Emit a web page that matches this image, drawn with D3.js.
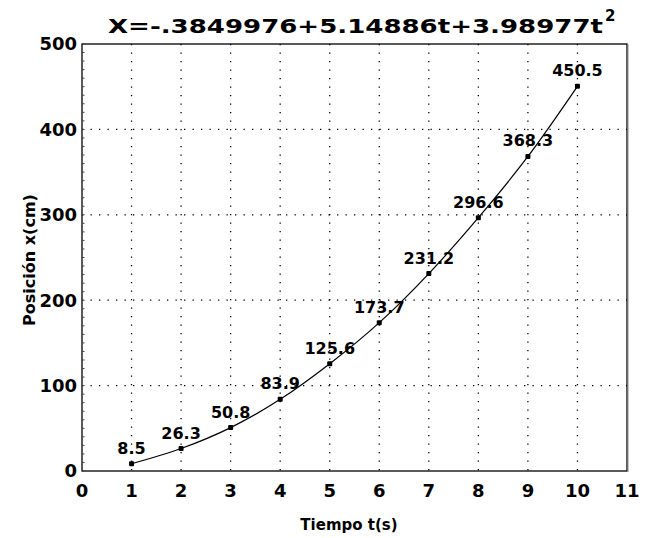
<!DOCTYPE html>
<html lang="es">
<head>
<meta charset="UTF-8">
<title>Posición vs Tiempo</title>
<script src="https://d3js.org/d3.v7.min.js"></script>
<style>
  body { margin: 0; background: #fff; }
  svg text { font-family: "DejaVu Sans", "Liberation Sans", Arial, sans-serif; font-weight: bold; fill: #000; }
  .grid line { stroke: #000; stroke-width: 1.3; stroke-dasharray: 1.3 7.2; }
</style>
</head>
<body>
<div id="chart"></div>
<script>
  // data
  var tiempo = [1, 2, 3, 4, 5, 6, 7, 8, 9, 10];
  var posicion = [8.5, 26.3, 50.8, 83.9, 125.6, 173.7, 231.2, 296.6, 368.3, 450.5];
  var xTicks = [0, 1, 2, 3, 4, 5, 6, 7, 8, 9, 10, 11];
  var yTicks = [0, 100, 200, 300, 400, 500];

  var width = 645, height = 538;
  var margin = {left: 82, right: 18, top: 44, bottom: 67};

  var svg = d3.select('#chart').append('svg')
    .attr('width', width)
    .attr('height', height);

  var x = d3.scaleLinear().domain([0, 11]).range([margin.left, width - margin.right]);
  var y = d3.scaleLinear().domain([0, 500]).range([height - margin.bottom, margin.top]);

  // dotted grid
  var grid = svg.append('g').classed('grid', true);
  grid.selectAll('line.v')
    .data(xTicks.slice(1, -1))
    .enter().append('line')
    .attr('x1', function (d) { return x(d); })
    .attr('x2', function (d) { return x(d); })
    .attr('y1', y(500))
    .attr('y2', y(0));
  grid.selectAll('line.h')
    .data(yTicks.slice(1, -1))
    .enter().append('line')
    .attr('x1', x(0))
    .attr('x2', x(11))
    .attr('y1', function (d) { return y(d); })
    .attr('y2', function (d) { return y(d); });

  // frame
  svg.append('rect')
    .attr('x', x(0))
    .attr('y', y(500))
    .attr('width', x(11) - x(0))
    .attr('height', y(0) - y(500))
    .attr('fill', 'none')
    .attr('stroke', '#000')
    .attr('stroke-width', 1.3);
  svg.append('line')
    .attr('x1', x(11) + 1).attr('x2', x(11) + 1)
    .attr('y1', y(500)).attr('y2', y(0) + 1)
    .attr('stroke', '#888').attr('stroke-width', 1);

  // minor ticks on left axis
  svg.append('g')
    .selectAll('line')
    .data(d3.range(0, 501, 10))
    .enter().append('line')
    .attr('x1', x(0))
    .attr('x2', x(0) + 2.5)
    .attr('y1', function (d) { return y(d); })
    .attr('y2', function (d) { return y(d); })
    .attr('stroke', '#444')
    .attr('stroke-width', 1);

  // tick labels
  svg.append('g').selectAll('text')
    .data(xTicks)
    .enter().append('text')
    .attr('x', function (d) { return x(d); })
    .attr('y', y(0) + 26)
    .attr('text-anchor', 'middle')
    .style('font-size', '18px')
    .text(function (d) { return d; });

  svg.append('g').selectAll('text')
    .data(yTicks)
    .enter().append('text')
    .attr('x', x(0) - 5)
    .attr('y', function (d) { return y(d); })
    .attr('dy', '0.36em')
    .attr('text-anchor', 'end')
    .style('font-size', '18px')
    .text(function (d) { return d; });

  // curve through the points
  var line = d3.line()
    .x(function (d, i) { return x(tiempo[i]); })
    .y(function (d) { return y(d); })
    .curve(d3.curveMonotoneX);

  svg.append('path')
    .datum(posicion)
    .attr('d', line)
    .attr('fill', 'none')
    .attr('stroke', '#000')
    .attr('stroke-width', 1.2);

  svg.append('g').selectAll('rect')
    .data(posicion)
    .enter().append('rect')
    .attr('x', function (d, i) { return x(tiempo[i]) - 2.5; })
    .attr('y', function (d) { return y(d) - 2.5; })
    .attr('width', 5)
    .attr('height', 5)
    .attr('rx', 1)
    .attr('fill', '#000');

  // value labels
  svg.append('g').selectAll('text')
    .data(posicion)
    .enter().append('text')
    .attr('x', function (d, i) { return x(tiempo[i]); })
    .attr('y', function (d) { return y(d) - 10; })
    .attr('text-anchor', 'middle')
    .style('font-size', '16px')
    .text(function (d) { return d.toFixed(1); });

  // title
  var title = svg.append('text')
    .attr('x', 108)
    .attr('y', 33)
    .style('font-size', '20px');
  title.append('tspan')
    .attr('textLength', 495)
    .attr('lengthAdjust', 'spacingAndGlyphs')
    .text('X=-.3849976+5.14886t+3.98977t');
  title.append('tspan').attr('dx', 2).attr('dy', -12).style('font-size', '15px').text('2');

  // axis titles
  svg.append('text')
    .attr('x', 349)
    .attr('y', 530)
    .attr('text-anchor', 'middle')
    .style('font-size', '15px')
    .text('Tiempo t(s)');

  svg.append('text')
    .attr('transform', 'translate(35,260) rotate(-90)')
    .attr('text-anchor', 'middle')
    .style('font-size', '16px')
    .text('Posición x(cm)');
</script>
</body>
</html>
